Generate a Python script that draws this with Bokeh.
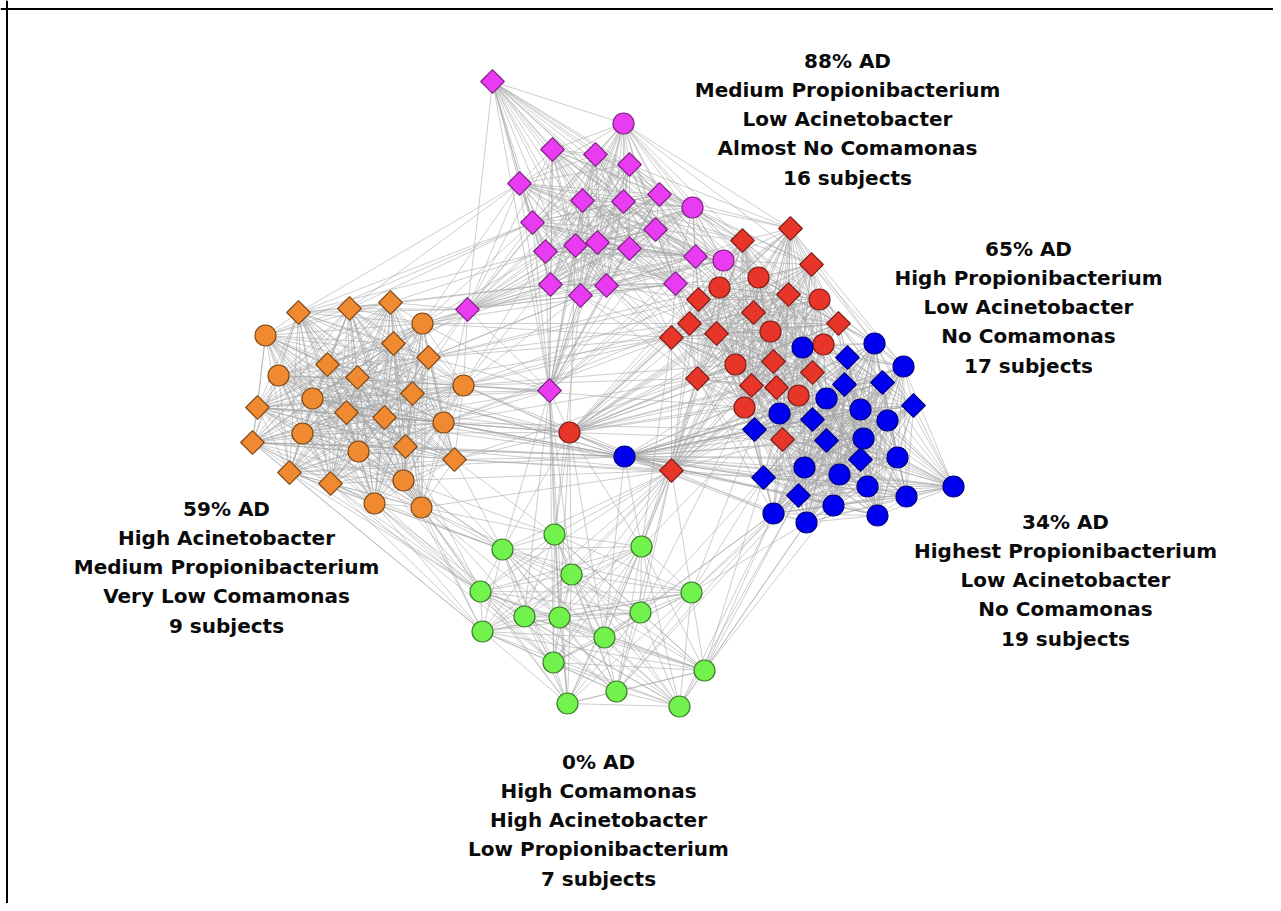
import numpy as np
from bokeh.plotting import figure
from bokeh.models import Range1d, Span
from bokeh.embed import file_html
from bokeh.resources import INLINE
from bokeh.core.properties import value

# ---------------- data: node layout, shape C=circle D=diamond
mag_x = [492, 623, 552, 595, 629, 519, 582, 623, 659, 692, 532, 655, 545, 575, 597, 629, 695, 723, 550, 580, 606, 675, 467, 549]
mag_y = [81, 123, 149, 154, 164, 183, 200, 201, 194, 207, 222, 229, 251, 245, 242, 248, 256, 260, 284, 295, 285, 283, 309, 390]
mag_s = "DCDDDDDDDCDDDDDDDCDDDDDD"

red_x = [790, 742, 811, 758, 719, 788, 819, 698, 753, 838, 689, 770, 671, 716, 823, 735, 773, 812, 697, 751, 776, 798, 744, 782, 671, 569]
red_y = [228, 240, 264, 277, 287, 294, 299, 299, 312, 323, 323, 331, 337, 333, 344, 364, 361, 372, 378, 385, 387, 395, 407, 439, 470, 432]
red_s = "DDDCCDCDDDDCDDCCDDDDDCCDDC"

blu_x = [802, 874, 847, 903, 844, 882, 826, 913, 779, 860, 812, 887, 754, 826, 863, 860, 897, 804, 839, 763, 867, 953, 798, 906, 833, 773, 877, 806, 624]
blu_y = [347, 343, 357, 366, 384, 382, 398, 405, 413, 409, 419, 420, 429, 440, 438, 459, 457, 467, 474, 477, 486, 486, 495, 496, 505, 513, 515, 522, 456]
blu_s = "CCDCDDCDCCDCDDCDCCCDCCDCCCCCC"

ora_x = [298, 349, 390, 422, 265, 393, 428, 327, 278, 357, 463, 412, 312, 257, 346, 384, 443, 302, 252, 405, 358, 454, 289, 330, 403, 374, 421]
ora_y = [312, 308, 302, 323, 335, 343, 357, 364, 375, 377, 385, 393, 398, 407, 412, 417, 422, 433, 442, 446, 451, 459, 472, 483, 480, 503, 507]
ora_s = "DDDCCDDDCDCDCDDDCCDDCDDDCCC"

grn_x = [554, 502, 641, 571, 480, 691, 524, 559, 640, 482, 604, 553, 704, 616, 567, 679]
grn_y = [534, 549, 546, 574, 591, 592, 616, 617, 612, 631, 637, 662, 670, 691, 703, 706]
grn_s = "CCCCCCCCCCCCCCCC"

# edges between communities (hub: neighbours); edges inside a community are all pairs
cross_edges = [
    "m22: o0 o1 o2 o3 o5 o6 o7 o10 o11 o16 o9",
    "m23: o3 o6 o10 o11 o16 o15 o8 o13 g0 g1 g3 g7 g11 g14 g6 r25",
    "m18: o2 o3 o5 o1", "m12: o2 o3 o10 o0", "m10: o3 o1 o4 o0", "m5: o3 o0 o1",
    "m19: o6 o10 g0 r12 r18", "m13: r25 o10 r10 r12 r18",
    "o10: r12 r10 r7 r18 b28 r25 r24 r15 r22",
    "o16: r12 r18 r25 b28 r24 r10 b12",
    "o21: r24 b28 r25 r18 b19 g0 g1",
    "o6: r12 r7 r10 r4 m20", "o3: r10 r12 m21", "o11: r25 b28 r24", "o15: r25 b28",
    "o19: r24 b28 g1 g4", "o24: g1 g4 g9 g0 g6 r24", "o25: g1 g4 g9 g11 g6",
    "o26: g1 g4 g9 g0 g7 g14 g3 r24", "o22: g4 g9 g1", "o23: g4 g9 g1 g11",
    "o18: g4 g9 b28", "o13: b28 r25", "o20: g1 g4", "o17: g4", "o12: r12 b28",
    "r25: b28 r24 g0 g1 g3 g7 g10 g2 o12 o8 o17",
    "b28: r24 o18 o22 o12 g2 g10 b12 b19 b8",
    "r24: g0 g1 g2 g3 g4 g6 g7 g8 g9 g10 g11 g13 g14 b19 b12 b22 b25",
    "g2: r18 r12 b12", "g5: b25 b19 b22 b27 b12 r24", "g12: b25 b27 b22 b24 b19",
    "g15: b25 b27 b22", "g13: b25 b22", "g8: b19 b25 r22", "g10: b25",
    "m1: r0 r1 r3 r2", "m9: r0 r1 r3 r4 r5 r7 r2 r8",
    "m16: r1 r3 r4 r7 r8 r10 r13 r11",
    "m17: r0 r1 r2 r3 r4 r5 r7 r8 r11 r13 r15 r6 b0 b8",
    "m21: r1 r3 r4 r7 r10 r12 r13 r15 r18 b12 b8",
    "m11: r1 r4 r7 r3 r10", "m15: r4 r7 r10 r12 r13", "m8: r0 r1 r3 r2",
    "m4: r0 r1", "m7: r1 r4", "m20: r4 r7 r10 r12 r18", "m14: r7 r10 r12", "m6: r1 r4",
    "r3: b0 b1 b2 b6 b4", "r5: b0 b2 b1 b4 b6 b8 b10", "r6: b0 b1 b2 b3 b4 b5 b6",
    "r9: b1 b2 b3 b5 b7 b9 b4", "r11: b0 b2 b4 b6 b8 b10 b12",
    "r14: b0 b1 b2 b3 b4 b5 b6 b9 b11", "r15: b8 b12 b10 b6 b19",
    "r16: b0 b4 b6 b8 b10 b12 b13 b17", "r17: b0 b2 b4 b6 b9 b10 b13 b14 b15",
    "r19: b8 b10 b12 b13 b17 b19 b22", "r20: b6 b8 b10 b12 b13 b17 b18 b15",
    "r21: b4 b6 b8 b9 b10 b13 b14 b15 b17 b18",
    "r22: b8 b12 b13 b17 b19 b22 b25",
    "r23: b12 b13 b15 b17 b18 b19 b20 b22 b24 b25 b27",
    "r13: b0 b8 b12", "r18: b8 b12 b19 b25", "r2: b1 b3 b0", "r0: b1 b3",
]

# labels
lab1 = ["88% AD", "Medium Propionibacterium", "Low Acinetobacter", "Almost No Comamonas", "16 subjects"]
lab2 = ["65% AD", "High Propionibacterium", "Low Acinetobacter", "No Comamonas", "17 subjects"]
lab3 = ["59% AD", "High Acinetobacter", "Medium Propionibacterium", "Very Low Comamonas", "9 subjects"]
lab4 = ["34% AD", "Highest Propionibacterium", "Low Acinetobacter", "No Comamonas", "19 subjects"]
lab5 = ["0% AD", "High Comamonas", "High Acinetobacter", "Low Propionibacterium", "7 subjects"]

# ---------------- build
groups = {
    "m": (mag_x, mag_y, mag_s, "#E93CF2", "#7E2384"),
    "r": (red_x, red_y, red_s, "#E8352A", "#7E1F18"),
    "b": (blu_x, blu_y, blu_s, "#0000F0", "#00007E"),
    "o": (ora_x, ora_y, ora_s, "#F08A30", "#80491A"),
    "g": (grn_x, grn_y, grn_s, "#72F24C", "#3C7E2A"),
}

def pos(tok):
    g, i = tok[0], int(tok[1:])
    return groups[g][0][i], groups[g][1][i]

x0, y0, x1, y1 = [], [], [], []
for key, (gx, gy, gs, fc, lc) in groups.items():
    n = len(gx)
    for i in range(n):
        for j in range(i + 1, n):
            x0.append(gx[i]); y0.append(gy[i]); x1.append(gx[j]); y1.append(gy[j])
for line in cross_edges:
    hub, rest = line.split(":")
    hx, hy = pos(hub.strip())
    for t in rest.split():
        tx_, ty_ = pos(t)
        x0.append(hx); y0.append(hy); x1.append(tx_); y1.append(ty_)

W, H = 1273, 903
p = figure(width=W, height=H, output_backend="svg", toolbar_location=None,
           x_range=Range1d(0, W), y_range=Range1d(H, 0),
           min_border=0, background_fill_color="white", border_fill_color="white")
p.axis.visible = False
p.grid.visible = False
p.outline_line_color = None

p.segment(x0=x0, y0=y0, x1=x1, y1=y1, line_color="#a4a4a4", line_alpha=0.55, line_width=1)

for key, (gx, gy, gs, fc, lc) in groups.items():
    cx = [x for x, s in zip(gx, gs) if s == "C"]
    cy = [y for y, s in zip(gy, gs) if s == "C"]
    dx = [x for x, s in zip(gx, gs) if s == "D"]
    dy = [y for y, s in zip(gy, gs) if s == "D"]
    if dx:
        p.scatter(dx, dy, marker="square", size=16.7, angle=np.pi / 4,
                  fill_color=fc, line_color=lc, line_width=1.2)
    if cx:
        p.scatter(cx, cy, marker="circle", size=21,
                  fill_color=fc, line_color=lc, line_width=1.2)

anchors = [(lab1, 847, 60), (lab2, 1028, 248), (lab3, 226, 508), (lab4, 1065, 521), (lab5, 598, 761)]
tx, ty, tt = [], [], []
for lines, ax, ay in anchors:
    for k, s in enumerate(lines):
        tx.append(ax); ty.append(ay + 29.3 * k); tt.append(s)
p.text(x=tx, y=ty, text=tt, text_align="center", text_baseline="middle",
       text_font=value("DejaVu Sans"), text_font_style="bold", text_font_size="20px",
       text_color="#0a0a0a")

p.add_layout(Span(location=6.5, dimension="height", line_color="black", line_width=2))
p.add_layout(Span(location=8.5, dimension="width", line_color="black", line_width=2))

open("out.html", "w").write(file_html(p, INLINE))
